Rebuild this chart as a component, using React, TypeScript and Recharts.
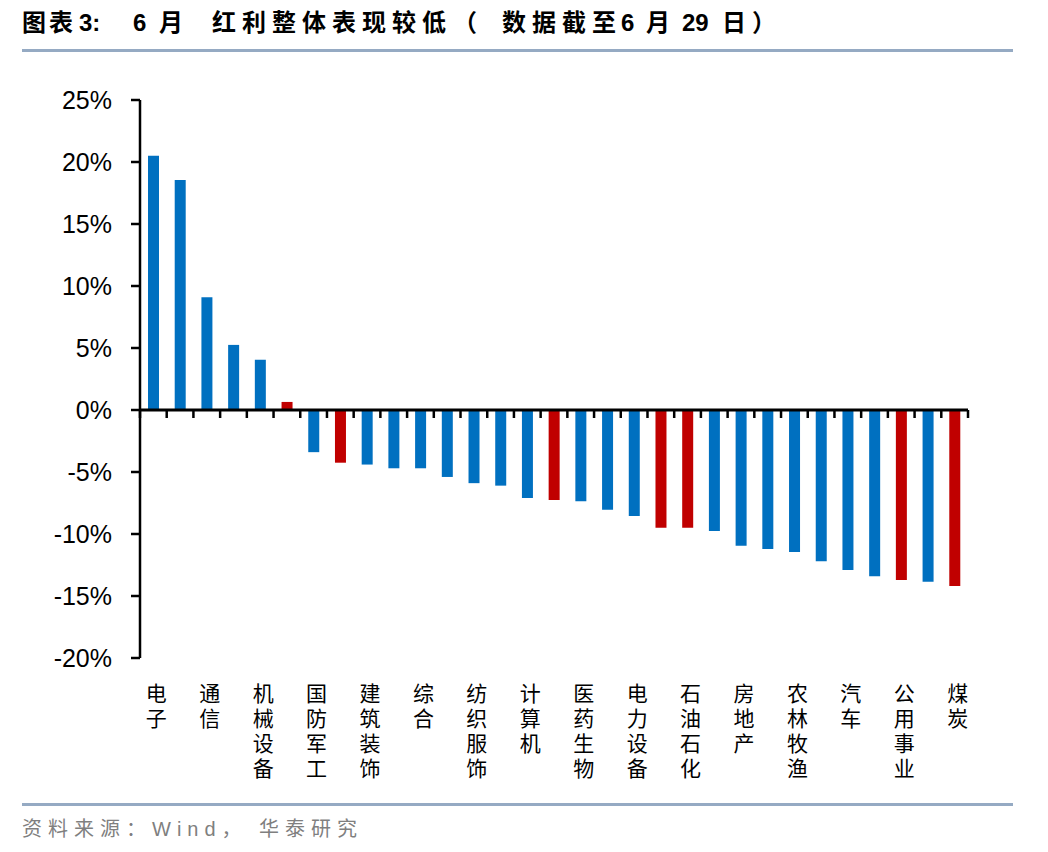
import React from "react";
import { BarChart, Bar, XAxis, YAxis, ReferenceLine, Cell } from "recharts";

// 申万一级行业，6月涨跌幅（%），数据截至6月29日
const industries = [
  "电子", "传媒", "通信", "非银金融", "机械设备", "银行", "国防军工", "交通运输",
  "建筑装饰", "基础化工", "综合", "轻工制造", "纺织服饰", "环保", "计算机", "家用电器",
  "医药生物", "美容护理", "电力设备", "钢铁", "石油石化", "有色金属", "房地产", "建筑材料",
  "农林牧渔", "商贸零售", "汽车", "社会服务", "公用事业", "食品饮料", "煤炭",
];
const returns = [
  20.5, 18.55, 9.1, 5.25, 4.05, 0.65, -3.4, -4.25,
  -4.4, -4.7, -4.7, -5.4, -5.9, -6.1, -7.1, -7.25,
  -7.35, -8.05, -8.55, -9.5, -9.5, -9.75, -10.95, -11.2,
  -11.45, -12.2, -12.9, -13.4, -13.7, -13.85, -14.2,
];
// 红利板块标红
const dividendFlags = [
  0, 0, 0, 0, 0, 1, 0, 1,
  0, 0, 0, 0, 0, 0, 0, 1,
  0, 0, 0, 1, 1, 0, 0, 0,
  0, 0, 0, 0, 1, 0, 1,
];
const yTicks = [-20, -15, -10, -5, 0, 5, 10, 15, 20, 25];

const BLUE = "#0070C0";
const RED = "#C00000";
const RULE = "#95AAC3";

const W = 1048;
const H = 852;
const PLOT_LEFT = 140;
const PLOT_RIGHT = 968;
const PLOT_TOP = 100;
const PLOT_BOTTOM = 658;
const Y_MIN = -20;
const Y_MAX = 25;

const data = industries.map((name, i) => ({
  name,
  value: returns[i],
  dividend: dividendFlags[i] === 1,
}));

const step = (PLOT_RIGHT - PLOT_LEFT) / industries.length;
const zeroY = PLOT_TOP + ((PLOT_BOTTOM - PLOT_TOP) * Y_MAX) / (Y_MAX - Y_MIN);

// x轴刻度线画在0轴上、类目分界处；标签每隔一个显示，竖排
const CategoryTick = (props: any) => {
  const { x, payload, index } = props;
  return (
    <g>
      <line x1={x - step / 2} x2={x - step / 2} y1={zeroY} y2={zeroY + 8} stroke="#000" strokeWidth={2.5} />
      {index === industries.length - 1 && (
        <line x1={x + step / 2} x2={x + step / 2} y1={zeroY} y2={zeroY + 8} stroke="#000" strokeWidth={2.5} />
      )}
      {index % 2 === 0 && (
        <text
          x={x + 3}
          y={PLOT_BOTTOM + 25}
          fontSize={21}
          fill="#000"
          fontFamily="'Noto Sans CJK SC', sans-serif"
          style={{ writingMode: "vertical-rl", letterSpacing: 4 }}
        >
          {payload.value}
        </text>
      )}
    </g>
  );
};

const titleFont = "'Liberation Sans', 'Noto Sans CJK SC', sans-serif";

const TitlePiece = ({ left, text, spacing = 6 }: { left: number; text: string; spacing?: number }) => (
  <span style={{ position: "absolute", left, top: 0, letterSpacing: spacing, whiteSpace: "nowrap" }}>{text}</span>
);

export default function App() {
  return (
    <div style={{ position: "absolute", left: 0, top: 0, width: W, height: H, background: "#fff" }}>
      <div
        style={{
          position: "absolute",
          left: 0,
          top: 8,
          width: W,
          height: 30,
          fontSize: 24,
          fontWeight: "bold",
          fontFamily: titleFont,
          color: "#000",
          lineHeight: "30px",
        }}
      >
        <TitlePiece left={22} text="图表" spacing={3} />
        <TitlePiece left={79} text="3:" spacing={0} />
        <TitlePiece left={133} text="6" spacing={0} />
        <TitlePiece left={159} text="月" />
        <TitlePiece left={212} text="红利整体表现较低" />
        <TitlePiece left={453} text="（" spacing={0} />
        <TitlePiece left={502} text="数据截至" />
        <TitlePiece left={621} text="6" spacing={0} />
        <TitlePiece left={646} text="月" />
        <TitlePiece left={682} text="29" spacing={0} />
        <TitlePiece left={722} text="日）" />
      </div>
      <div style={{ position: "absolute", left: 22, top: 49, width: 991, height: 3, background: RULE }} />

      <div style={{ position: "absolute", left: 0, top: 0 }}>
        <BarChart
          width={W}
          height={H}
          data={data}
          margin={{ top: PLOT_TOP, right: W - PLOT_RIGHT, bottom: 0, left: 0 }}
          barSize={11}
        >
          <XAxis
            dataKey="name"
            interval={0}
            axisLine={false}
            tickLine={false}
            height={H - PLOT_BOTTOM}
            tick={<CategoryTick />}
          />
          <YAxis
            domain={[Y_MIN, Y_MAX]}
            ticks={yTicks}
            width={PLOT_LEFT}
            tickFormatter={(v: number) => `${v}%`}
            axisLine={{ stroke: "#000", strokeWidth: 2.5 }}
            tickLine={{ stroke: "#000", strokeWidth: 2.5 }}
            tickSize={9}
            tickMargin={19}
            tick={{ fontSize: 25, fill: "#000", fontFamily: "'Liberation Sans', Arial, sans-serif" }}
            allowDataOverflow
          />
          <Bar dataKey="value" isAnimationActive={false}>
            {data.map((d, i) => (
              <Cell key={`cell-${i}`} fill={d.dividend ? RED : BLUE} />
            ))}
          </Bar>
          <ReferenceLine y={0} stroke="#000" strokeWidth={3} />
        </BarChart>
      </div>

      <div style={{ position: "absolute", left: 22, top: 803, width: 991, height: 3, background: RULE }} />
      <div
        style={{
          position: "absolute",
          left: 22,
          top: 814,
          fontSize: 20,
          letterSpacing: 6,
          whiteSpace: "pre",
          color: "#7f7f7f",
          fontFamily: "'Liberation Sans', 'Noto Sans CJK SC', sans-serif",
          lineHeight: "30px",
        }}
      >
        资料来源：Wind， 华泰研究
      </div>
    </div>
  );
}
